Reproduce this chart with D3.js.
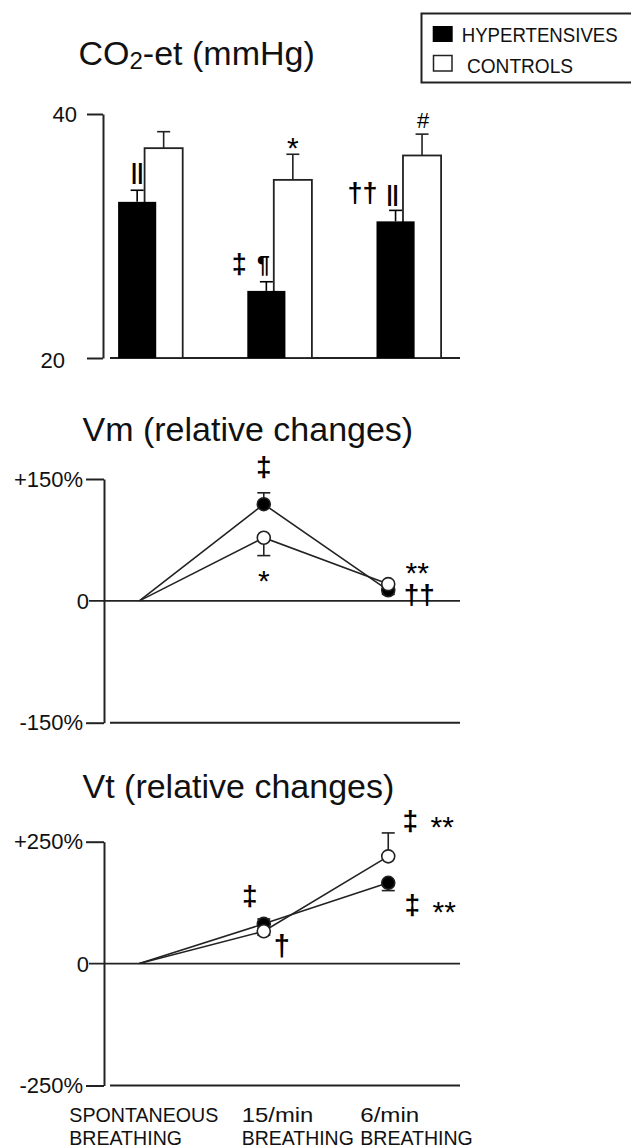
<!DOCTYPE html>
<html>
<head>
<meta charset="utf-8">
<script src="https://cdn.jsdelivr.net/npm/d3@7"></script>
<style>
  body { margin: 0; background: #fff; }
  svg { display: block; }
  text { font-family: "Liberation Sans", Arial, sans-serif; fill: #111; }
</style>
</head>
<body>
<svg id="fig" width="631" height="1147"></svg>
<script>
// ---- values ----
const conditions = ["spontaneous", "15/min", "6/min"];
const cond_line1 = ["SPONTANEOUS", "15/min", "6/min"];
const cond_line2 = ["BREATHING", "BREATHING", "BREATHING"];
const groups = ["HYPERTENSIVES", "CONTROLS"];

// end-tidal CO2, mmHg (mean and error)
const co2_hyper = [32.8, 25.5, 31.2];
const co2_hyper_err = [0.95, 0.75, 0.9];
const co2_ctrl = [37.2, 34.6, 36.6];
const co2_ctrl_err = [1.35, 2.1, 1.75];
const co2_ticks = [20, 40];

// minute ventilation, % change from spontaneous
const vm_hyper = [0, 119, 13];
const vm_hyper_err = [0, 14, 5];
const vm_ctrl = [0, 77.7, 20.6];
const vm_ctrl_err = [0, 22, 3];
const vm_ticks = [-150, 150];
const vm_tick_labels = ["-150%", "+150%"];

// tidal volume, % change from spontaneous
const vt_hyper = [0, 81.5, 165.7];
const vt_hyper_err = [0, 10, 16];
const vt_ctrl = [0, 66.3, 220];
const vt_ctrl_err = [0, 8, 48];
const vt_ticks = [-250, 250];
const vt_tick_labels = ["-250%", "+250%"];

const svg = d3.select("#fig");
const ink = "#222";

function error_bar(g, x, y0, y1, color) {
  g.append("line").attr("x1", x).attr("x2", x).attr("y1", y0).attr("y2", y1)
    .attr("stroke", color).attr("stroke-width", 1.6);
  g.append("line").attr("x1", x - 6.5).attr("x2", x + 6.5).attr("y1", y1).attr("y2", y1)
    .attr("stroke", color).attr("stroke-width", 1.6);
}

// significance symbols; asterisks and # stay regular, the rest are heavier
function glyph(x, y, txt, size) {
  const heavy = !/[*#]/.test(txt);
  svg.append("text").attr("x", x).attr("y", y)
    .attr("text-anchor", "middle")
    .style("font-size", size + "px")
    .style("font-weight", heavy ? "bold" : "normal")
    .style("fill", "#000")
    .text(txt);
}

// ================= CO2 bar chart =================
function draw_bars() {
  const y = d3.scaleLinear().domain([20, 40]).range([358, 114]);
  const x = d3.scaleBand().domain(conditions).range([110, 460])
    .paddingInner(0.5).paddingOuter(0.1045).align(0.3);
  const barW = x.bandwidth() * 0.59;
  const g = svg.append("g");

  // y axis
  const axis = d3.axisLeft(y).tickValues(co2_ticks).tickSize(16).tickSizeOuter(0).tickPadding(10);
  const ax = svg.append("g").attr("transform", "translate(103,0)").call(axis);
  ax.select(".domain").attr("stroke", ink).attr("stroke-width", 2);
  ax.selectAll(".tick line").attr("stroke", ink).attr("stroke-width", 2);
  ax.selectAll(".tick text").style("font-size", "22px").attr("fill", "#111")
    .attr("font-family", "Liberation Sans, Arial, sans-serif");
  ax.selectAll(".tick text").filter((d) => d === 20).attr("dx", -12).attr("dy", "0.45em");

  // baseline
  g.append("line").attr("x1", 110).attr("x2", 460).attr("y1", y(20)).attr("y2", y(20))
    .attr("stroke", ink).attr("stroke-width", 2);

  // controls (white) drawn first, hypertensives overlap them
  conditions.forEach(function (c, i) {
    const cx = x(c) + x.bandwidth() - barW;
    g.append("rect").attr("x", cx).attr("y", y(co2_ctrl[i]))
      .attr("width", barW).attr("height", y(20) - y(co2_ctrl[i]))
      .attr("fill", "#fff").attr("stroke", ink).attr("stroke-width", 1.8);
    error_bar(g, cx + barW / 2, y(co2_ctrl[i]), y(co2_ctrl[i] + co2_ctrl_err[i]), ink);

    const hx = x(c);
    g.append("rect").attr("x", hx).attr("y", y(co2_hyper[i]))
      .attr("width", barW).attr("height", y(20) - y(co2_hyper[i]))
      .attr("fill", "#000");
    error_bar(g, hx + barW / 2, y(co2_hyper[i]), y(co2_hyper[i] + co2_hyper_err[i]), "#000");
  });

  // significance marks: [condition, group, text, dx, dy, size]
  const marks = [
    [0, 0, "||", 0, -11, 22],
    [1, 0, "\u2021", -27, -9, 27],
    [1, 0, "\u00B6", -3, -9, 23],
    [1, 1, "*", 0, 4, 30],
    [2, 0, "\u2020\u2020", -33, -8, 27],
    [2, 0, "||", -3, -9, 22],
    [2, 1, "#", 1, -6, 22]
  ];
  marks.forEach(function (m) {
    const i = m[0];
    const cx = m[1] === 0 ? x(conditions[i]) + barW / 2 : x(conditions[i]) + x.bandwidth() - barW / 2;
    const top = m[1] === 0 ? co2_hyper[i] + co2_hyper_err[i] : co2_ctrl[i] + co2_ctrl_err[i];
    glyph(cx + m[3], y(top) + m[4], m[2], m[5]);
  });

  // title with subscript
  const t = svg.append("text").attr("x", 78.5).attr("y", 65).style("font-size", "34px");
  t.append("tspan").text("CO");
  t.append("tspan").attr("dy", 4).style("font-size", "24px").text("2");
  t.append("tspan").attr("dy", -4).text("-et (mmHg)");

  // legend (its right border runs off the page, as in the figure)
  svg.append("rect").attr("x", 421.5).attr("y", 13.5).attr("width", 211).attr("height", 69)
    .attr("fill", "#fff").attr("stroke", ink).attr("stroke-width", 2);
  svg.append("rect").attr("x", 432.7).attr("y", 26).attr("width", 20).attr("height", 16).attr("fill", "#000");
  svg.append("rect").attr("x", 433.5).attr("y", 55.5).attr("width", 18.5).attr("height", 15.5)
    .attr("fill", "#fff").attr("stroke", ink).attr("stroke-width", 1.5);
  svg.append("text").attr("x", 461.7).attr("y", 41.7).style("font-size", "20px")
    .attr("textLength", 156).attr("lengthAdjust", "spacingAndGlyphs").text(groups[0]);
  svg.append("text").attr("x", 467).attr("y", 72.5).style("font-size", "20px")
    .attr("textLength", 106).attr("lengthAdjust", "spacingAndGlyphs").text(groups[1]);
}

// ================= line charts =================
function draw_lines(cfg) {
  const y = d3.scaleLinear().domain([cfg.ticks[0], cfg.ticks[1]]).range([cfg.bottom, cfg.top]);
  const x = d3.scalePoint().domain(conditions).range([110, 460]).padding(0.406).align(0.29);
  const g = svg.append("g");

  const axis = d3.axisLeft(y).tickValues(cfg.ticks).tickSize(18).tickSizeOuter(0).tickPadding(3)
    .tickFormat((d, i) => cfg.labels[i]);
  const ax = svg.append("g").attr("transform", "translate(104,0)").call(axis);
  ax.select(".domain").attr("stroke", ink).attr("stroke-width", 2);
  ax.selectAll(".tick line").attr("stroke", ink).attr("stroke-width", 2);
  ax.selectAll(".tick text").style("font-size", "22px").attr("fill", "#111")
    .attr("font-family", "Liberation Sans, Arial, sans-serif");

  // zero line and bottom line
  g.append("line").attr("x1", 89).attr("x2", 460).attr("y1", y(0)).attr("y2", y(0))
    .attr("stroke", ink).attr("stroke-width", 1.6);
  g.append("text").attr("x", 89).attr("y", y(0)).attr("dy", "0.36em")
    .attr("text-anchor", "end").style("font-size", "22px").text("0");
  g.append("line").attr("x1", 110).attr("x2", 460).attr("y1", cfg.bottom).attr("y2", cfg.bottom)
    .attr("stroke", ink).attr("stroke-width", 2);

  const line = d3.line().x((d, i) => x(conditions[i])).y((d) => y(d));
  [cfg.hyper, cfg.ctrl].forEach(function (s) {
    g.append("path").attr("d", line(s)).attr("fill", "none")
      .attr("stroke", ink).attr("stroke-width", 1.6);
  });

  // error bars: hypertensives up then down, controls down then up
  const side_h = [0, 1, -1], side_c = [0, -1, 1];
  for (let i = 1; i < conditions.length; i++) {
    error_bar(g, x(conditions[i]), y(cfg.hyper[i]), y(cfg.hyper[i] + side_h[i] * cfg.hyper_err[i]), ink);
    error_bar(g, x(conditions[i]), y(cfg.ctrl[i]), y(cfg.ctrl[i] + side_c[i] * cfg.ctrl_err[i]), ink);
  }
  for (let i = 1; i < conditions.length; i++) {
    g.append("circle").attr("cx", x(conditions[i])).attr("cy", y(cfg.hyper[i])).attr("r", 6.5)
      .attr("fill", "#000").attr("stroke", ink).attr("stroke-width", 1.6);
  }
  for (let i = 1; i < conditions.length; i++) {
    g.append("circle").attr("cx", x(conditions[i])).attr("cy", y(cfg.ctrl[i])).attr("r", 6.5)
      .attr("fill", "#fff").attr("stroke", ink).attr("stroke-width", 1.6);
  }

  // marks anchored on a point (or its error cap)
  cfg.marks.forEach(function (m) {
    const i = m[0];
    const s = m[1] === 0 ? cfg.hyper : cfg.ctrl;
    const e = m[1] === 0 ? cfg.hyper_err[i] * side_h[i] : cfg.ctrl_err[i] * side_c[i];
    const v = m[6] ? s[i] + e : s[i];
    glyph(x(conditions[i]) + m[3], y(v) + m[4], m[2], m[5]);
  });

  svg.append("text").attr("x", 82.5).attr("y", cfg.title_y).style("font-size", "34px").text(cfg.title);
  return x;
}

draw_bars();

draw_lines({
  title: "Vm (relative changes)", title_y: 441,
  ticks: vm_ticks, labels: vm_tick_labels, top: 479, bottom: 722.7,
  hyper: vm_hyper, hyper_err: vm_hyper_err, ctrl: vm_ctrl, ctrl_err: vm_ctrl_err,
  // [condition, group, text, dx, dy, size, fromCap]
  marks: [
    [1, 0, "\u2021", 0, -17, 28, true],
    [1, 1, "*", 0, 35, 30, true],
    [2, 1, "**", 29, -1, 30, false],
    [2, 1, "\u2020\u2020", 31, 20, 28, false]
  ]
});

const xv = draw_lines({
  title: "Vt (relative changes)", title_y: 798,
  ticks: vt_ticks, labels: vt_tick_labels, top: 841.7, bottom: 1085.5,
  hyper: vt_hyper, hyper_err: vt_hyper_err, ctrl: vt_ctrl, ctrl_err: vt_ctrl_err,
  marks: [
    [1, 0, "\u2021", -14, -14, 28, true],
    [1, 1, "\u2020", 18, 25, 29, false],
    [2, 1, "\u2021", 22, -3, 28, true],
    [2, 1, "**", 54, 4, 30, true],
    [2, 0, "\u2021", 24, 23, 28, true],
    [2, 0, "**", 56, 31, 30, true]
  ]
});

// condition labels under the last panel
const label_dx = [-70, -22, -28];
const w1 = [149, 71.6, 59], w2 = [112.7, 112, 112.6];
conditions.forEach(function (c, i) {
  svg.append("text").attr("x", xv(c) + label_dx[i]).attr("y", 1121.7).style("font-size", "21px")
    .attr("textLength", w1[i]).attr("lengthAdjust", "spacingAndGlyphs").text(cond_line1[i]);
  svg.append("text").attr("x", xv(c) + label_dx[i]).attr("y", 1144.5).style("font-size", "21px")
    .attr("textLength", w2[i]).attr("lengthAdjust", "spacingAndGlyphs").text(cond_line2[i]);
});
</script>
</body>
</html>
